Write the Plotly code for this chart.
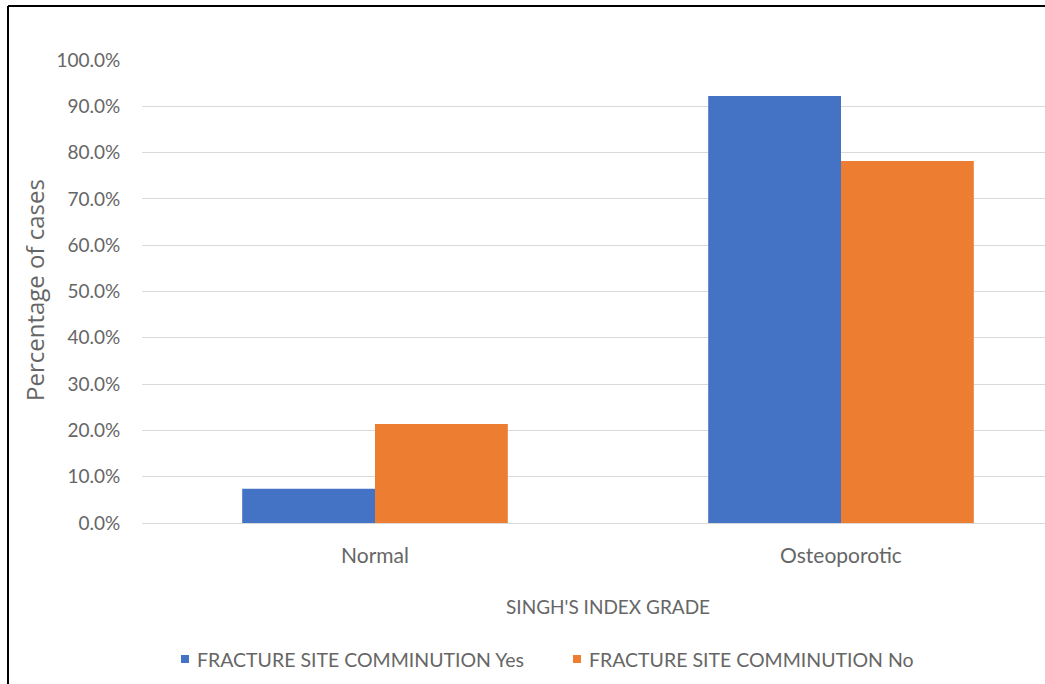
import plotly.graph_objects as go

# Singh's index grade vs. fracture site comminution
categories = ["Normal", "Osteoporotic"]
comminution_yes = [7.4, 92.2]
comminution_no = [21.4, 78.2]
series_names = ["FRACTURE SITE COMMINUTION Yes", "FRACTURE SITE COMMINUTION No"]
series_colors = ["#4472C4", "#ED7D31"]
y_ticks = [0, 10, 20, 30, 40, 50, 60, 70, 80, 90, 100]
y_tick_labels = [f"{v:.1f}%" for v in y_ticks]

W, H = 1045, 684
L, R, T, B = 142, 0, 60, 161
plot_w = W - L - R
plot_h = H - T - B

def px_x(px):
    return (px - L) / plot_w

def px_y(py):
    return (H - B - py) / plot_h

FONT = "Lato, 'Open Sans', sans-serif"
GRAY = "#666666"

fig = go.Figure()
for vals, name, color in zip([comminution_yes, comminution_no], series_names, series_colors):
    fig.add_trace(go.Bar(
        x=categories, y=vals, name=name,
        marker=dict(color=color, line=dict(width=0)),
    ))

# category band is 466 px wide; the right part of the last band lies past the edge
band = 466.0
x_max = 1.5 - (L + 2 * band - W) / band

# legend drawn as small squares followed by labels
legend_x = [181, 573]
legend_y = 659
shapes = []
annotations = []
for lx, name, color in zip(legend_x, series_names, series_colors):
    shapes.append(dict(
        type="rect", xref="paper", yref="paper",
        x0=px_x(lx), x1=px_x(lx + 8), y0=px_y(legend_y - 4), y1=px_y(legend_y + 4),
        fillcolor=color, line=dict(width=0),
    ))
    annotations.append(dict(
        text=name, xref="paper", yref="paper",
        x=px_x(lx + 14), y=px_y(legend_y),
        xanchor="left", yanchor="middle", showarrow=False,
        font=dict(family=FONT, size=19.5, color=GRAY),
    ))

annotations += [
    dict(
        text="Percentage of cases",
        xref="paper", yref="paper",
        x=px_x(34), y=px_y(290),
        textangle=-90, showarrow=False,
        font=dict(family="'Open Sans', sans-serif", size=24, color=GRAY),
        xanchor="center", yanchor="middle",
    ),
    dict(
        text="SINGH'S INDEX GRADE",
        xref="paper", yref="paper",
        x=px_x(608), y=px_y(606),
        showarrow=False,
        font=dict(family=FONT, size=19, color=GRAY),
        xanchor="center", yanchor="middle",
    ),
]

# outer frame (top and left edges)
shapes += [
    dict(type="line", xref="paper", yref="paper",
         x0=px_x(8), x1=px_x(W + 5), y0=px_y(6), y1=px_y(6),
         line=dict(color="black", width=2)),
    dict(type="line", xref="paper", yref="paper",
         x0=px_x(8), x1=px_x(8), y0=px_y(6), y1=px_y(H + 5),
         line=dict(color="black", width=2)),
]

fig.update_layout(
    width=W, height=H,
    margin=dict(l=L, r=R, t=T, b=B, pad=0),
    paper_bgcolor="white",
    plot_bgcolor="white",
    barmode="group",
    bargap=0.43,
    bargroupgap=0,
    font=dict(family=FONT, color=GRAY, size=14),
    showlegend=False,
    xaxis=dict(
        range=[-0.5, x_max],
        showgrid=False,
        showline=False,
        zeroline=False,
        ticks="outside",
        ticklen=14,
        tickcolor="rgba(0,0,0,0)",
        tickfont=dict(family=FONT, size=21, color=GRAY),
    ),
    yaxis=dict(
        range=[0, 100],
        tickvals=y_ticks,
        ticktext=y_tick_labels,
        showgrid=True,
        gridcolor="#D9D9D9",
        gridwidth=1,
        zeroline=True,
        zerolinecolor="#D9D9D9",
        zerolinewidth=1,
        showline=False,
        ticks="outside",
        ticklen=17,
        tickcolor="rgba(0,0,0,0)",
        tickfont=dict(family=FONT, size=19, color=GRAY),
    ),
    annotations=annotations,
    shapes=shapes,
)

fig.write_html("out.html")
